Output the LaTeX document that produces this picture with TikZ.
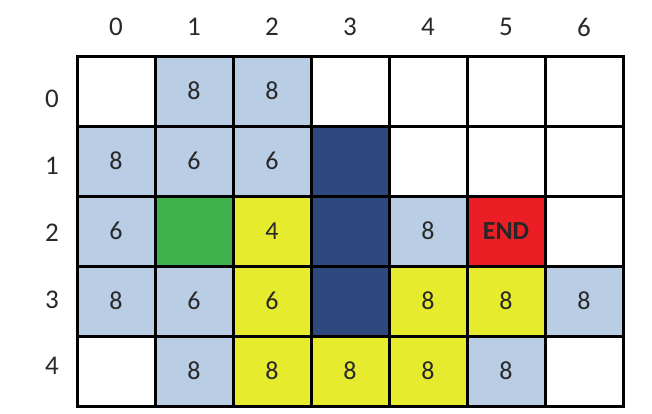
\documentclass[tikz,border=0pt]{standalone}
\usepackage{fontspec}
\setmainfont{Carlito}
\usetikzlibrary{positioning}
\definecolor{cellblue}{RGB}{185,205,229}
\definecolor{celldark}{RGB}{47,72,125}
\definecolor{cellgreen}{RGB}{62,176,76}
\definecolor{cellyellow}{RGB}{230,236,45}
\definecolor{cellred}{RGB}{235,30,38}
\definecolor{celltext}{RGB}{40,40,40}
\tikzset{cell/.style={draw, line width=1.5pt, minimum width=39pt, minimum height=35pt, inner sep=0pt, text=celltext, font=\fontsize{13}{15}\selectfont}}
\tikzset{cwhite/.style={cell, fill=white}}
\tikzset{cblue/.style={cell, fill=cellblue}}
\tikzset{cdark/.style={cell, fill=celldark}}
\tikzset{cgreen/.style={cell, fill=cellgreen}}
\tikzset{cyellow/.style={cell, fill=cellyellow}}
\tikzset{cend/.style={cell, fill=cellred, text=black!85, font=\fontsize{13}{15}\selectfont\bfseries}}
\tikzset{head/.style={inner sep=0pt, text=celltext, font=\fontsize{13.5}{15}\selectfont}}

\begin{document}
\begin{tikzpicture}[x=0.5pt, y=-0.5pt]
	\useasboundingbox (0,0) rectangle (652,413);

	% the grid: row/column/style/label
	\foreach \r/\c/\s/\t in {
			0/0/cwhite/{}, 0/1/cblue/8, 0/2/cblue/8, 0/3/cwhite/{}, 0/4/cwhite/{}, 0/5/cwhite/{}, 0/6/cwhite/{},
			1/0/cblue/8, 1/1/cblue/6, 1/2/cblue/6, 1/3/cdark/{}, 1/4/cwhite/{}, 1/5/cwhite/{}, 1/6/cwhite/{},
			2/0/cblue/6, 2/1/cgreen/{}, 2/2/cyellow/4, 2/3/cdark/{}, 2/4/cblue/8, 2/5/cend/END, 2/6/cwhite/{},
			3/0/cblue/8, 3/1/cblue/6, 3/2/cyellow/6, 3/3/cdark/{}, 3/4/cyellow/8, 3/5/cyellow/8, 3/6/cblue/8,
			4/0/cwhite/{}, 4/1/cblue/8, 4/2/cyellow/8, 4/3/cyellow/8, 4/4/cyellow/8, 4/5/cblue/8, 4/6/cwhite/{}}
		\node[\s] (c\r\c) at ({116+78*\c},{91+70*\r}) {\t};

	% column and row numbers
	\foreach \c in {0,...,6}
		\node[head] (col\c) at ({116+78*\c},27) {\c};
	\foreach \r/\y in {0/99,1/166,2/233,3/300,4/366}
		\node[head] (row\r) at (52,\y) {\r};
\end{tikzpicture}
\end{document}
